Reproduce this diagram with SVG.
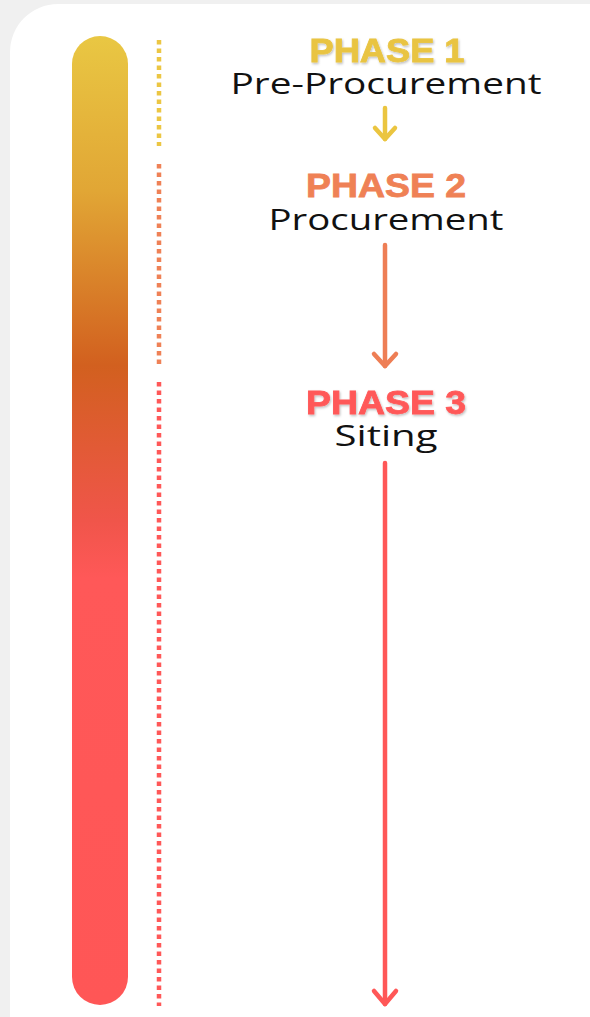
<svg xmlns="http://www.w3.org/2000/svg" width="590" height="1017" viewBox="0 0 590 1017">
<defs>
<linearGradient id="barGrad" x1="0" y1="36" x2="0" y2="1005" gradientUnits="userSpaceOnUse">
<stop offset="0" stop-color="#E9C743"/>
<stop offset="0.16" stop-color="#E1A635"/>
<stop offset="0.34" stop-color="#D2601F"/>
<stop offset="0.5" stop-color="#F0554A"/>
<stop offset="0.56" stop-color="#FF5858"/>
<stop offset="1" stop-color="#FF5656"/>
</linearGradient>
<filter id="shadow" x="-10%" y="-20%" width="120%" height="150%">
<feDropShadow dx="1" dy="1.5" stdDeviation="1" flood-color="#000" flood-opacity="0.25"/>
</filter>
</defs>
<style>
.phase{font-family:"Liberation Sans",Arial,sans-serif;font-weight:900;font-size:33px;text-anchor:middle;stroke-width:0.8}
.name{font-family:"Open Sans","Liberation Sans",sans-serif;font-size:30px;fill:#111;text-anchor:middle}
.dots{fill:none;stroke-width:4.5;stroke-dasharray:4.5 4}
.arrow{fill:none;stroke-width:4.5;stroke-linecap:round;stroke-linejoin:round}
</style>
<rect width="590" height="1017" fill="#F0F0F0"/>
<rect x="10" y="4" width="640" height="1080" rx="48" fill="#FFFFFF"/>
<g id="bar"><rect x="72" y="36" width="56" height="969" rx="28" fill="url(#barGrad)"/></g>
<g id="dotted">
<line class="dots" x1="159" y1="40" x2="159" y2="146" stroke="#ECC643"/>
<line class="dots" x1="159" y1="164" x2="159" y2="364" stroke="#EF8156"/>
<line class="dots" x1="159" y1="382" x2="159" y2="1006" stroke="#FF5858"/>
</g>
<g id="phase1">
<text class="phase" x="387" y="62" fill="#E9C443" stroke="#E9C443" filter="url(#shadow)" textLength="155" lengthAdjust="spacingAndGlyphs">PHASE 1</text>
<text class="name" x="386" y="94" textLength="311" lengthAdjust="spacingAndGlyphs">Pre-Procurement</text>
</g>
<g id="phase2">
<text class="phase" x="386" y="197" fill="#EF8155" stroke="#EF8155" textLength="160" lengthAdjust="spacingAndGlyphs">PHASE 2</text>
<text class="name" x="386" y="230" textLength="235" lengthAdjust="spacingAndGlyphs">Procurement</text>
</g>
<g id="phase3">
<text class="phase" x="386" y="414" fill="#FF5959" stroke="#FF5959" filter="url(#shadow)" textLength="160" lengthAdjust="spacingAndGlyphs">PHASE 3</text>
<text class="name" x="386" y="446" textLength="103" lengthAdjust="spacingAndGlyphs">Siting</text>
</g>
<g id="connectors">
<g stroke="#EBC540" class="arrow"><path d="M385 108 V139"/><path d="M375 128 L385 139 L395 128"/></g>
<g stroke="#EE7E55" class="arrow"><path d="M385 245 V366"/><path d="M374 354 L385 366 L396 354"/></g>
<g stroke="#FF5757" class="arrow"><path d="M385 463 V1004"/><path d="M374 991 L385 1004 L396 991"/></g>
</g>
</svg>
